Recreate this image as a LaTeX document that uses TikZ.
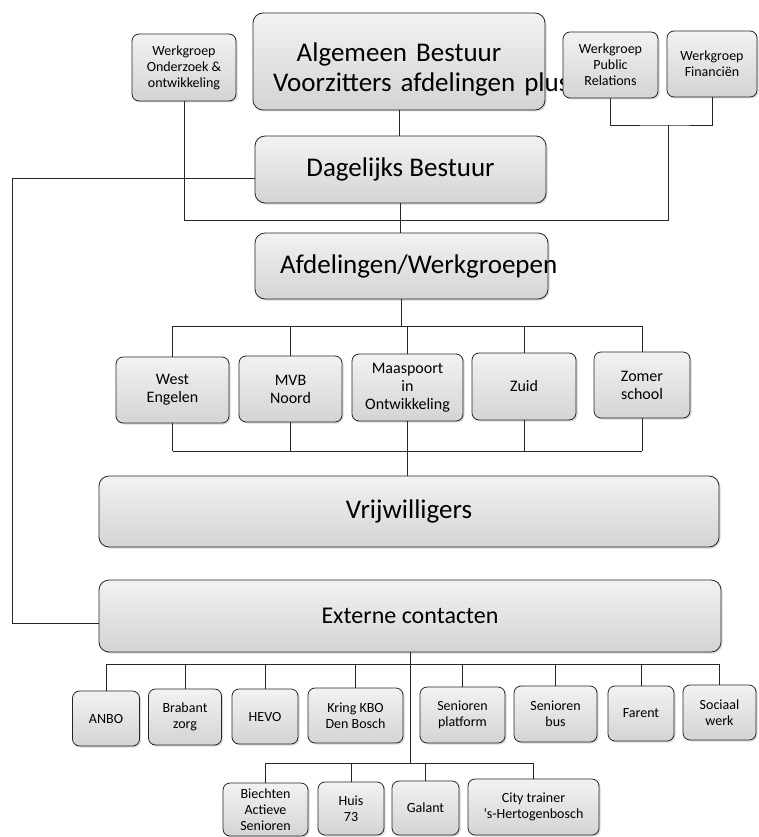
\documentclass[tikz,border=0pt]{standalone}
\usepackage{fontspec}
\setmainfont{Carlito}
\usetikzlibrary{shadows}

\tikzset{
	orgbox/.style={draw=black!85, thick, rounded corners=7pt, top color=gray!10, bottom color=gray!34,
		drop shadow={opacity=0.3, shadow xshift=1.5pt, shadow yshift=-1.5pt}, align=center, inner sep=2pt},
	bigbox/.style={orgbox, rounded corners=10pt, font=\fontsize{27}{30}\selectfont},
	wgbox/.style={orgbox, font=\fontsize{14}{16}\selectfont},
	afdbox/.style={orgbox, font=\fontsize{16}{18}\selectfont},
	extbox/.style={orgbox, font=\fontsize{14}{16}\selectfont},
	link/.style={draw=black!85, thick}
}

\begin{document}
\begin{tikzpicture}[x=1pt, y=-1pt]
	\useasboundingbox (0,0) rectangle (758,837);
	
	% bestuur en werkgroepen
	\node[bigbox, minimum width=292pt, minimum height=97pt, text width=252pt] (ab) at (399,61.5)
	{\rule{0pt}{34pt}\mbox{Algemeen Bestuur}\\\mbox{Voorzitters afdelingen plus}};
	\node[wgbox, minimum width=104pt, minimum height=67pt] (ow) at (184,67.5) {Werkgroep\\Onderzoek \&\\ontwikkeling};
	\node[wgbox, minimum width=95pt, minimum height=66pt] (pr) at (610.5,65) {Werkgroep\\Public\\Relations};
	\node[wgbox, minimum width=90pt, minimum height=66pt] (fin) at (712,64) {Werkgroep\\Financiën};
	\node[bigbox, minimum width=291pt, minimum height=67pt] (db) at (400.5,169.5) {Dagelijks Bestuur};
	\node[bigbox, minimum width=293pt, minimum height=66pt, text width=243pt] (afd) at (401.5,266) {\mbox{Afdelingen/Werkgroepen}};
	
	% afdelingen
	\node[afdbox, minimum width=113pt, minimum height=66pt] (west) at (172.5,390) {West\\Engelen};
	\node[afdbox, minimum width=103pt, minimum height=66pt] (mvb) at (290.5,389) {MVB\\Noord};
	\node[afdbox, minimum width=111pt, minimum height=67pt] (maas) at (407.5,387.5) {Maaspoort\\in\\Ontwikkeling};
	\node[afdbox, minimum width=104pt, minimum height=67pt] (zuid) at (524,386.5) {Zuid};
	\node[afdbox, minimum width=96pt, minimum height=66pt] (zomer) at (642,385) {Zomer\\school};
	
	\node[bigbox, minimum width=620pt, minimum height=71pt] (vrij) at (409,511.5) {Vrijwilligers};
	\node[bigbox, minimum width=622pt, minimum height=72pt, font=\fontsize{24}{28}\selectfont] (ec) at (410,616) {Externe contacten};
	
	% externe contacten
	\node[extbox, minimum width=67pt, minimum height=55pt] (anbo) at (106,718.5) {ANBO};
	\node[extbox, minimum width=73pt, minimum height=56pt] (brabant) at (185,717) {Brabant\\zorg};
	\node[extbox, minimum width=66pt, minimum height=55pt] (hevo) at (265,716.5) {HEVO};
	\node[extbox, minimum width=95pt, minimum height=55pt] (kring) at (355.5,715.5) {Kring KBO\\Den Bosch};
	\node[extbox, minimum width=85pt, minimum height=56pt] (splat) at (462.5,715) {Senioren\\platform};
	\node[extbox, minimum width=83pt, minimum height=56pt] (sbus) at (555.5,714) {Senioren\\bus};
	\node[extbox, minimum width=66pt, minimum height=55pt] (farent) at (641,713.5) {Farent};
	\node[extbox, minimum width=73pt, minimum height=55pt] (sociaal) at (719.5,712.5) {Sociaal\\werk};
	
	\node[extbox, minimum width=85pt, minimum height=53pt] (biechten) at (265.5,809.5) {Biechten\\Actieve\\Senioren};
	\node[extbox, minimum width=66pt, minimum height=53pt] (huis) at (351,808.5) {Huis\\73};
	\node[extbox, minimum width=67pt, minimum height=54pt] (galant) at (425.5,808) {Galant};
	\node[extbox, minimum width=131pt, minimum height=56pt] (city) at (533.5,807) {City trainer\\`s-Hertogenbosch};
	
	% lijnen bovenin
	\coordinate (wgjoin) at (668,125);
	\coordinate (wgbus) at (668,220);
	\draw[link] (ab.south) -- (ab.south |- db.north);
	\draw[link] (pr.south) |- (wgjoin) -| (fin.south);
	\draw[link] (wgjoin) -- (wgbus) -| (ow.south);
	\draw[link] (db.south) -- (db.south |- afd.north);
	
	\coordinate (railtop) at (12,178);
	\coordinate (railbot) at (12,623);
	\draw[link] (db.west |- railtop) -- (railtop) -- (railbot) -- (ec.west |- railbot);
	
	% afdelingen
	\coordinate (afdtop) at (0,326);
	\coordinate (afdbot) at (0,451);
	\draw[link] (afd.south) -- (afd.south |- afdtop);
	\draw[link] (west.north |- afdtop) -- (zomer.north |- afdtop);
	\draw[link] (west.south |- afdbot) -- (zomer.south |- afdbot);
	\foreach \n in {west,mvb,maas,zuid,zomer}
	{
		\draw[link] (\n.north) -- (\n.north |- afdtop);
		\draw[link] (\n.south) -- (\n.south |- afdbot);
	}
	\draw[link] (maas.south |- afdbot) -- (maas.south |- vrij.north);
	
	% externe contacten
	\coordinate (extbus) at (0,664);
	\coordinate (extbus2) at (0,763);
	\draw[link] (ec.south) -- (ec.south |- extbus2);
	\draw[link] (anbo.north |- extbus) -- (sociaal.north |- extbus);
	\foreach \n in {anbo,brabant,hevo,kring,splat,sbus,farent,sociaal}
	\draw[link] (\n.north) -- (\n.north |- extbus);
	\draw[link] (biechten.north |- extbus2) -- (city.north |- extbus2);
	\foreach \n in {biechten,huis,galant,city}
	\draw[link] (\n.north) -- (\n.north |- extbus2);
\end{tikzpicture}
\end{document}
